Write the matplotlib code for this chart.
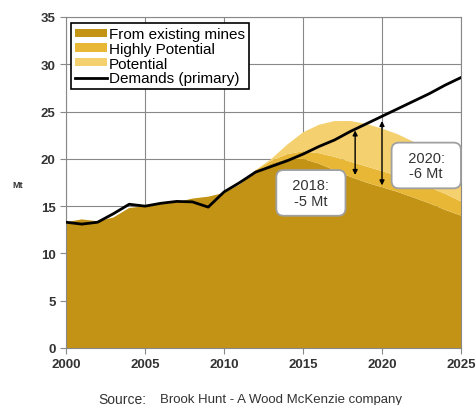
import numpy as np
import matplotlib.pyplot as plt

years = list(range(2000, 2026))
existing = [13.3, 13.6, 13.4, 13.8, 14.8, 15.0, 15.2, 15.4, 15.8, 16.0, 16.4, 17.3,
            18.6, 19.5, 20.0, 20.0, 19.5, 18.8, 18.1, 17.5, 17.0, 16.5, 15.9, 15.3, 14.6, 14.0]
highly_potential = [0, 0, 0, 0, 0, 0, 0, 0, 0, 0, 0, 0,
                    0.2, 0.3, 0.5, 0.8, 1.1, 1.4, 1.6, 1.7, 1.7, 1.7, 1.7, 1.7, 1.7, 1.5]
potential = [0, 0, 0, 0, 0, 0, 0, 0, 0, 0, 0, 0,
             0.0, 0.2, 1.0, 2.0, 3.0, 3.8, 4.3, 4.5, 4.5, 4.4, 4.2, 3.5, 2.9, 2.3]
demand = [13.3, 13.1, 13.3, 14.2, 15.2, 15.0, 15.3, 15.5, 15.45, 14.9, 16.5, 17.5,
          18.6, 19.2, 19.8, 20.5, 21.3, 22.0, 22.9, 23.7, 24.5, 25.3, 26.1, 26.9, 27.8, 28.6]

c_dark = '#C39316'
c_mid = '#E8B735'
c_light = '#F4D06E'

plt.rcParams['font.family'] = 'Liberation Sans'

fig = plt.figure(figsize=(4.77, 4.06), dpi=100)
ax = fig.add_axes([66/477, 57/406, 395/477, 331/406])

ax.grid(True, color='#888888', linewidth=0.8, zorder=0)
ax.set_axisbelow(True)
ax.stackplot(years, existing, highly_potential, potential,
             colors=[c_dark, c_mid, c_light], zorder=2,
             labels=['From existing mines', 'Highly Potential', 'Potential'])
ax.plot(years, demand, color='black', linewidth=2, zorder=3, label='Demands (primary)')

# gap arrows
ax.annotate('', xy=(2018.3, 18.0), xytext=(2018.3, 23.3),
            arrowprops=dict(arrowstyle='<|-|>', color='black', lw=1, mutation_scale=7), zorder=4)
ax.annotate('', xy=(2020.0, 16.9), xytext=(2020.0, 24.3),
            arrowprops=dict(arrowstyle='<|-|>', color='black', lw=1, mutation_scale=7), zorder=4)

box = dict(boxstyle='round,pad=0.55,rounding_size=0.5', facecolor='white',
           edgecolor='#A0A0A0', linewidth=1.3)
ax.text(2015.5, 16.4, '  2018:  \n-5 Mt', ha='center', va='center', fontsize=10.5,
        color='#333333', bbox=box, zorder=5, linespacing=1.15)
ax.text(2022.8, 19.3, '  2020:  \n-6 Mt', ha='center', va='center', fontsize=10.5,
        color='#333333', bbox=box, zorder=5, linespacing=1.15)

ax.set_xlim(2000, 2025)
ax.set_ylim(0, 35)
ax.set_xticks(range(2000, 2026, 5))
ax.set_yticks(range(0, 36, 5))
ax.tick_params(labelsize=9.5, colors='#888888', labelcolor='#333333', length=4, width=0.8)
for lab in ax.get_xticklabels() + ax.get_yticklabels():
    lab.set_fontweight('bold')
for s in ax.spines.values():
    s.set_color('#888888')
    s.set_linewidth(0.8)

fig.text(12/477, 1 - 186/406, 'Mt', fontsize=6.5, fontweight='bold', color='#333333',
         ha='left', va='center')

leg = ax.legend(loc='upper left', bbox_to_anchor=(0.005, 0.99), fontsize=11,
                frameon=True, fancybox=False, edgecolor='black', framealpha=1,
                labelspacing=0.05, handlelength=2.1, handleheight=0.45,
                handletextpad=0.15, borderpad=0.25, borderaxespad=0.2)
leg.get_frame().set_linewidth(1.2)
leg.set_zorder(6)

fig.text(98/477, 1 - 400/406, 'Source:', fontsize=10, color='#333333', ha='left', va='center')
fig.text(160/477, 1 - 400/406, 'Brook Hunt - A Wood McKenzie company', fontsize=9.5,
         color='#333333', ha='left', va='center')

fig.savefig('out.png', dpi=100)
